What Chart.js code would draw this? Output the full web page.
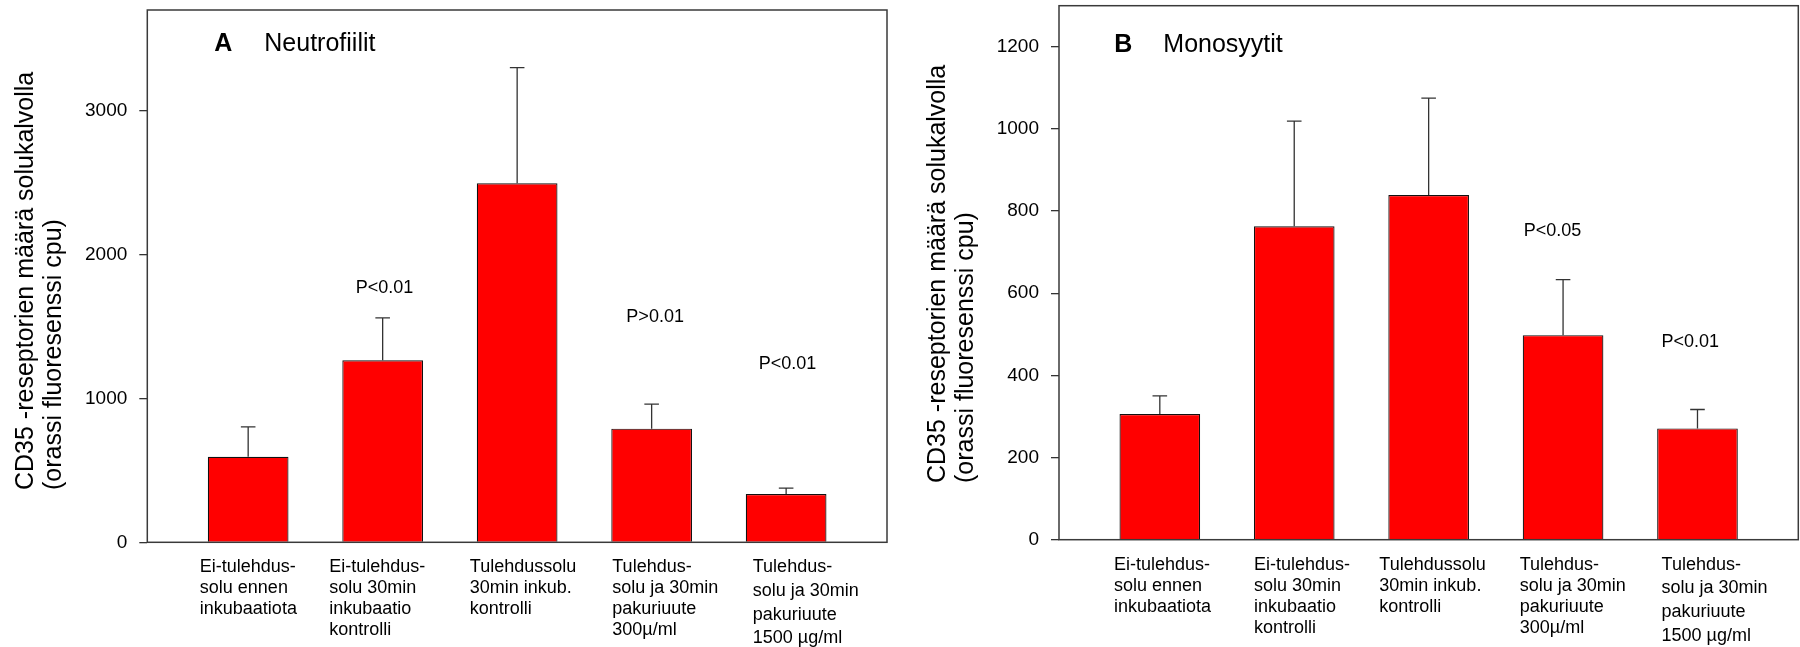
<!DOCTYPE html>
<html><head><meta charset="utf-8">
<script src="https://cdn.jsdelivr.net/npm/chart.js@4"></script>
<style>
html,body{margin:0;padding:0;background:#fff;}
#wrap{position:relative;width:1800px;height:647px;overflow:hidden;background:#fff;}
canvas{position:absolute;top:0;}
</style></head><body>
<div id="wrap"><canvas id="cA" width="900" height="647" style="left:0"></canvas><canvas id="cB" width="900" height="647" style="left:900px"></canvas></div>
<script>
// ---- data ----
const categoryLabels = [
  ['Ei-tulehdus-', 'solu ennen', 'inkubaatiota'],
  ['Ei-tulehdus-', 'solu 30min', 'inkubaatio', 'kontrolli'],
  ['Tulehdussolu', '30min inkub.', 'kontrolli'],
  ['Tulehdus-', 'solu ja 30min', 'pakuriuute', '300µ/ml'],
  ['Tulehdus-', 'solu ja 30min', 'pakuriuute', '1500 µg/ml']
];
const yTitleLines = ['CD35 -reseptorien määrä solukalvolla', '(orassi fluoresenssi cpu)'];

const neutrophilMeans = [595, 1265, 2495, 790, 335];
const neutrophilSD    = [207, 295, 805, 170, 42];
const neutrophilPText = [null, 'P<0.01', null, 'P>0.01', 'P<0.01'];
const neutrophilPAt   = [null, 1735, null, 1531, 1203];
const neutrophilTicks = [0, 1000, 2000, 3000];
const neutrophilMax   = 3700;

const monocyteMeans = [306, 763, 839, 498, 271];
const monocyteSD    = [44, 256, 236, 135, 46];
const monocytePText = [null, null, null, 'P<0.05', 'P<0.01'];
const monocytePAt   = [null, null, null, 739, 469];
const monocyteTicks = [0, 200, 400, 600, 800, 1000, 1200];
const monocyteMax   = 1300;

const FONT = "'Liberation Sans', Arial, Helvetica, sans-serif";

function makePlugin(o) {
  return {
    id: 'panel' + o.letter,
    afterDatasetsDraw(chart) {
      const ctx = chart.ctx, ca = chart.chartArea, ys = chart.scales.y;
      const meta = chart.getDatasetMeta(0);
      ctx.save();
      // error bars
      ctx.strokeStyle = '#333'; ctx.lineWidth = 1.3;
      meta.data.forEach((bar, i) => {
        const top = ys.getPixelForValue(o.means[i] + o.sd[i]);
        ctx.beginPath();
        ctx.moveTo(bar.x, bar.y); ctx.lineTo(bar.x, top);
        ctx.moveTo(bar.x - 7.3, top); ctx.lineTo(bar.x + 7.3, top);
        ctx.stroke();
      });
      // frame
      ctx.strokeStyle = '#3a3a3a'; ctx.lineWidth = 1.5;
      ctx.strokeRect(ca.left, ca.top, ca.right - ca.left, ca.bottom - ca.top);
      // category labels
      ctx.fillStyle = '#000'; ctx.font = '18px ' + FONT;
      ctx.textAlign = 'left'; ctx.textBaseline = 'alphabetic';
      meta.data.forEach((bar, i) => {
        const left = bar.x - bar.width / 2 + o.labelNudge[i];
        const lh = i === 4 ? 23.6 : 21;
        categoryLabels[i].forEach((line, k) => ctx.fillText(line, left, ca.bottom + 30 + k * lh));
      });
      // significance labels
      ctx.textAlign = 'center';
      o.pText.forEach((t, i) => {
        if (!t) return;
        ctx.fillText(t, meta.data[i].x + o.pNudge[i], ys.getPixelForValue(o.pAt[i]));
      });
      // panel heading
      ctx.textAlign = 'left';
      ctx.font = 'bold 25px ' + FONT;
      ctx.fillText(o.letter, ca.left + o.letterX, o.titleY);
      ctx.font = '25px ' + FONT;
      ctx.fillText(o.title, ca.left + o.titleX, o.titleY);
      // y axis title
      yTitleLines.forEach((line, k) => {
        ctx.save();
        ctx.translate(ca.left - [114, 86][k], o.yTitleStart);
        ctx.rotate(-Math.PI / 2);
        ctx.fillText(line, 0, 0);
        ctx.restore();
      });
      ctx.restore();
    }
  };
}

function makePanel(id, o) {
  return new Chart(document.getElementById(id), {
    type: 'bar',
    data: {
      datasets: [{
        data: o.means.map((v, i) => ({ x: i, y: v })),
        backgroundColor: '#ff0000',
        borderColor: '#111',
        borderWidth: 1.2,
        categoryPercentage: 1,
        barPercentage: 0.6
      }]
    },
    options: {
      responsive: false, animation: false, events: [],
      layout: { padding: { left: 0, top: o.padTop, right: o.padRight, bottom: o.padBottom } },
      plugins: { legend: { display: false }, tooltip: { enabled: false } },
      scales: {
        x: {
          type: 'linear', display: false, min: -0.75, max: 4.75, offset: false,
          afterBuildTicks: s => { s.ticks = o.means.map((_, i) => ({ value: i })); }
        },
        y: {
          type: 'linear', min: 0, max: o.max,
          afterBuildTicks: s => { s.ticks = o.ticks.map(v => ({ value: v })); },
          afterFit: s => { s.width = o.yWidth; s.paddingTop = 0; s.paddingBottom = 0; },
          grid: { display: true, drawOnChartArea: false, drawTicks: true, tickLength: 8, color: '#333', lineWidth: 1.3 },
          border: { display: false },
          ticks: { padding: 12, color: '#000', font: { family: FONT, size: 19 }, callback: v => String(v) }
        }
      }
    },
    plugins: [makePlugin(o)]
  });
}

makePanel('cA', {
  letter: 'A', title: 'Neutrofiilit',
  means: neutrophilMeans, sd: neutrophilSD, pText: neutrophilPText, pAt: neutrophilPAt,
  ticks: neutrophilTicks, max: neutrophilMax,
  padTop: 10, padRight: 13, padBottom: 104.7, yWidth: 147.3,
  labelNudge: [-8, -13, -7, 1, 7], pNudge: [0, 1.8, 0, 3.5, 1.4],
  titleY: 50.7, letterX: 67, titleX: 117, yTitleStart: 490
});

makePanel('cB', {
  letter: 'B', title: 'Monosyytit',
  means: monocyteMeans, sd: monocyteSD, pText: monocytePText, pAt: monocytePAt,
  ticks: monocyteTicks, max: monocyteMax,
  padTop: 5.7, padRight: 1.7, padBottom: 107.3, yWidth: 159,
  labelNudge: [-5.6, 0, -9, -3, 4.4], pNudge: [0, 0, 0, -10.5, -7.3],
  titleY: 51.7, letterX: 55.3, titleX: 104.3, yTitleStart: 483
});
</script>
</body></html>
